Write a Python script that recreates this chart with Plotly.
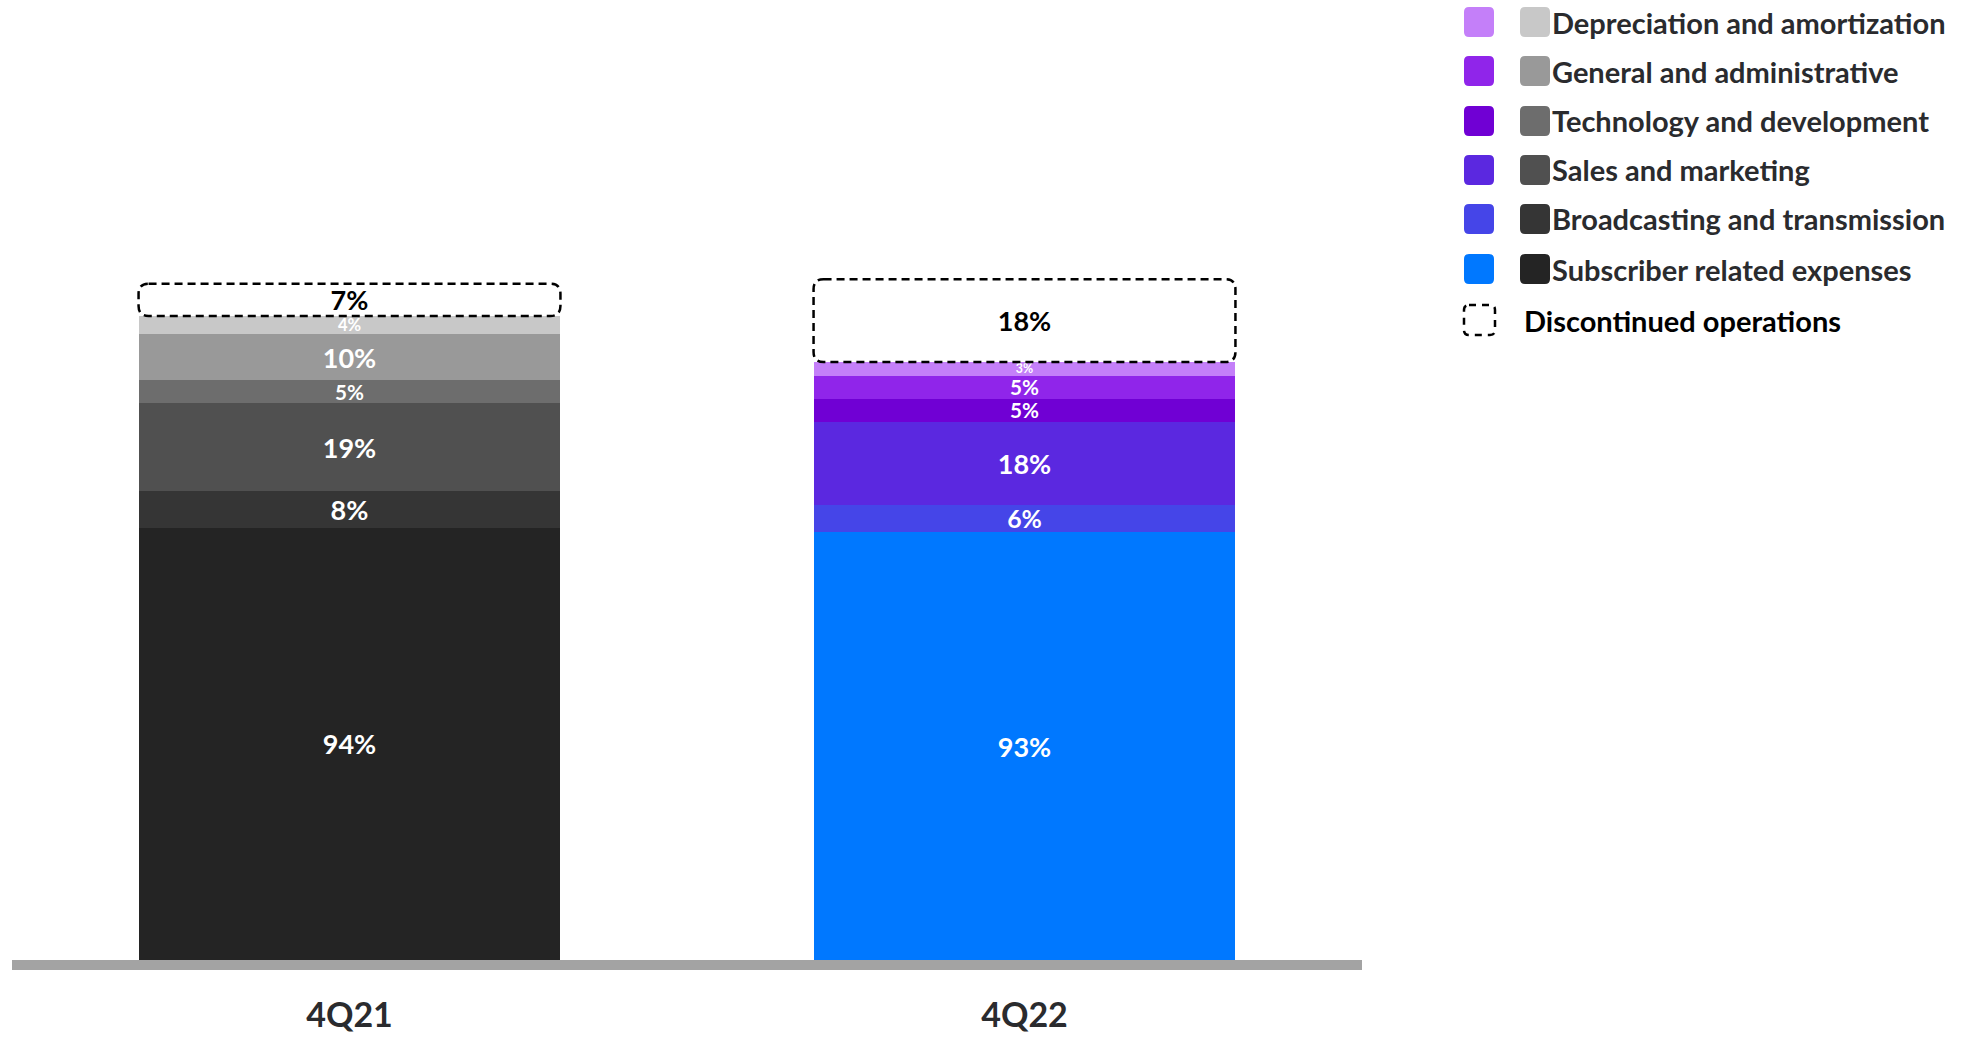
import plotly.graph_objects as go

# ---- data -------------------------------------------------------------
quarters = ["4Q21", "4Q22"]
x_pos = [0, 1]

series_names = [
    "Subscriber related expenses",
    "Broadcasting and transmission",
    "Sales and marketing",
    "Technology and development",
    "General and administrative",
    "Depreciation and amortization",
]
subscriber = [94, 93]
broadcasting = [8, 6]
sales = [19, 18]
technology = [5, 5]
general_admin = [10, 5]
depreciation = [4, 3]
discontinued = [7, 18]

series_values = [subscriber, broadcasting, sales, technology, general_admin, depreciation]

# colours: grey scale for 4Q21, brand palette for 4Q22
colors_4q22 = ["#0078ff", "#4545e8", "#5b28e0", "#7000d4", "#9025ea", "#c47ff9"]
colors_4q21 = ["#242424", "#353535", "#505050", "#6d6d6d", "#999999", "#c8c8c8"]

# ---- geometry ---------------------------------------------------------
W, H = 1972, 1037
M_L, M_R, M_T, M_B = 12, 610, 10, 77
PLOT_W = W - M_L - M_R
PLOT_H = H - M_T - M_B
X_RANGE = [-0.5, 1.5]
Y_RANGE = [0, 206.5]
BAR_W = 0.625
FONT = "Lato"
TEXT_DARK = "#2a2b2e"
LABEL_SIZE = 27

px_per_x = PLOT_W / (X_RANGE[1] - X_RANGE[0])
px_per_y = PLOT_H / (Y_RANGE[1] - Y_RANGE[0])


def label_sizes(vals):
    """Label font size per segment: full size, reduced only for thin segments."""
    return [min(LABEL_SIZE, round(0.9 * v * px_per_y, 1)) for v in vals]


def rounded_rect_path(x0, x1, y0, y1, rx, ry):
    """SVG path for a rectangle with rounded corners (y1 is the top)."""
    return (
        f"M {x0 + rx},{y1} L {x1 - rx},{y1} Q {x1},{y1} {x1},{y1 - ry} "
        f"L {x1},{y0 + ry} Q {x1},{y0} {x1 - rx},{y0} "
        f"L {x0 + rx},{y0} Q {x0},{y0} {x0},{y0 + ry} "
        f"L {x0},{y1 - ry} Q {x0},{y1} {x0 + rx},{y1} Z"
    )


def to_paper(px, py):
    return (px - M_L) / PLOT_W, (M_T + PLOT_H - py) / PLOT_H


fig = go.Figure()

# stacked expense segments (only the top of each stack gets rounded)
for name, vals, c21, c22 in zip(series_names, series_values, colors_4q21, colors_4q22):
    fig.add_trace(
        go.Bar(
            x=x_pos,
            y=vals,
            name=name,
            width=BAR_W,
            marker=dict(color=[c21, c22], line=dict(width=0), cornerradius=8),
            texttemplate="%{y}%",
            textposition="inside",
            insidetextanchor="middle",
            constraintext="none",
            textangle=0,
            insidetextfont=dict(family=FONT, size=label_sizes(vals), color="white",
                                weight="bold"),
            showlegend=False,
            hoverinfo="skip",
        )
    )

# discontinued operations sit on top of each stack
totals = [sum(v[i] for v in series_values) for i in range(len(quarters))]
fig.add_trace(
    go.Bar(
        x=x_pos,
        y=discontinued,
        base=totals,
        name="Discontinued operations",
        width=BAR_W,
        marker=dict(color="white", line=dict(width=0)),
        texttemplate="%{y}%",
        textposition="inside",
        insidetextanchor="middle",
        constraintext="none",
        textangle=0,
        insidetextfont=dict(family=FONT, size=label_sizes(discontinued), color="black",
                            weight="bold"),
        showlegend=False,
        hoverinfo="skip",
    )
)

shapes = []
rx, ry = 10 / px_per_x, 10 / px_per_y
for xi, base, val in zip(x_pos, totals, discontinued):
    shapes.append(
        dict(
            type="path",
            xref="x",
            yref="y",
            path=rounded_rect_path(xi - BAR_W / 2, xi + BAR_W / 2, base, base + val, rx, ry),
            line=dict(color="black", width=2.5, dash="8px,5px"),
            fillcolor="rgba(0,0,0,0)",
        )
    )

# ---- legend (two swatches per row: 4Q22 colour, 4Q21 grey) ------------
annotations = []
row_y = [22, 71, 121, 170, 219, 269]
legend_rows = list(zip(series_names, colors_4q22, colors_4q21))[::-1]
sw = 30
srx, sry = 5 / PLOT_W, 5 / PLOT_H
for (name, c22, c21), cy in zip(legend_rows, row_y):
    for left, col in ((1464, c22), (1520, c21)):
        x0, y0 = to_paper(left, cy + sw / 2)
        x1, y1 = to_paper(left + sw, cy - sw / 2)
        shapes.append(
            dict(type="path", xref="paper", yref="paper",
                 path=rounded_rect_path(x0, x1, y0, y1, srx, sry),
                 fillcolor=col, line=dict(width=0))
        )
    tx, ty = to_paper(1550, cy)
    annotations.append(
        dict(x=tx, y=ty, xref="paper", yref="paper", text=name, showarrow=False,
             xanchor="left", yanchor="middle",
             font=dict(family=FONT, size=29, color=TEXT_DARK, weight="bold"))
    )

# dashed swatch for discontinued operations
dy = 320
x0, y0 = to_paper(1464, dy + 15)
x1, y1 = to_paper(1495, dy - 15)
shapes.append(
    dict(type="path", xref="paper", yref="paper",
         path=rounded_rect_path(x0, x1, y0, y1, srx, sry),
         fillcolor="white", line=dict(color="black", width=2.5, dash="7px,6px"))
)
tx, ty = to_paper(1522, dy)
annotations.append(
    dict(x=tx, y=ty, xref="paper", yref="paper", text="Discontinued operations",
         showarrow=False, xanchor="left", yanchor="middle",
         font=dict(family=FONT, size=29, color="black", weight="bold"))
)

fig.update_layout(
    width=W,
    height=H,
    margin=dict(l=M_L, r=M_R, t=M_T, b=M_B, pad=0),
    barmode="stack",
    plot_bgcolor="white",
    paper_bgcolor="white",
    shapes=shapes,
    annotations=annotations,
    showlegend=False,
    xaxis=dict(
        range=X_RANGE,
        tickvals=x_pos,
        ticktext=quarters,
        showgrid=False,
        zeroline=False,
        showline=True,
        linecolor="#a3a3a3",
        linewidth=10,
        ticks="",
        ticklabelstandoff=16,
        automargin=False,
        tickfont=dict(family=FONT, size=34, color=TEXT_DARK, weight="bold"),
        fixedrange=True,
    ),
    yaxis=dict(range=Y_RANGE, visible=False, fixedrange=True, automargin=False),
)

fig.write_html("out.html")
